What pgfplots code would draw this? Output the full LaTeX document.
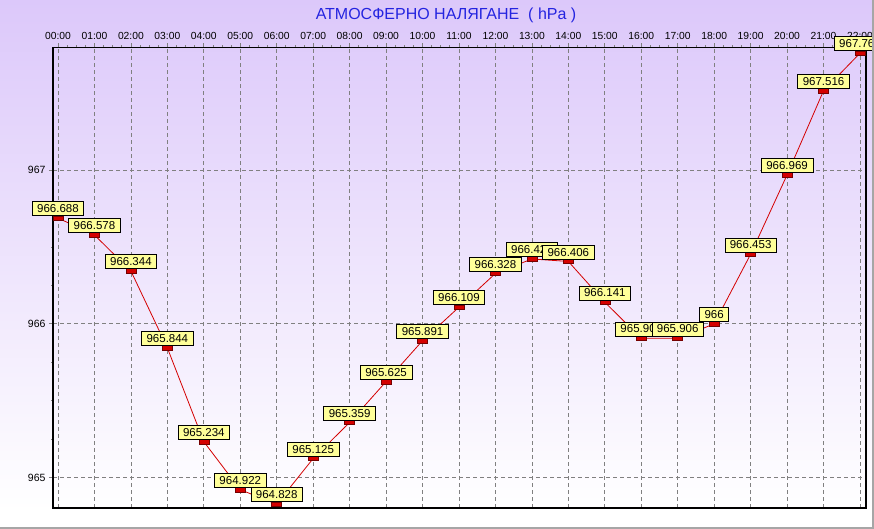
\documentclass[border=0pt]{standalone}
\usepackage{fontspec}
\setmainfont{Liberation Sans}
\usepackage{pgfplots}
\usepackage{pgfplotstable}
\pgfplotsset{compat=1.18}
\definecolor{bgtop}{HTML}{DCC8FA}
\definecolor{lbl}{HTML}{FFFF99}
\definecolor{ttl}{HTML}{2424E0}
\definecolor{ptred}{HTML}{D40000}
\definecolor{grd}{HTML}{808080}

\pgfplotstableread{
x y lab
0 966.688 966.688
1 966.578 966.578
2 966.344 966.344
3 965.844 965.844
4 965.234 965.234
5 964.922 964.922
6 964.828 964.828
7 965.125 965.125
8 965.359 965.359
9 965.625 965.625
10 965.891 965.891
11 966.109 966.109
12 966.328 966.328
13 966.422 966.422
14 966.406 966.406
15 966.141 966.141
16 965.906 965.906
17 965.906 965.906
18 966 966
19 966.453 966.453
20 966.969 966.969
21 967.516 967.516
22 967.760 967.760
}\pres

\begin{document}
\begin{tikzpicture}[x=1pt,y=1pt]
\shade[top color=bgtop, bottom color=white] (0,18) rectangle (874,529);
\fill[white] (0,0) rectangle (874,18);
\begin{axis}[
  at={(53pt,21pt)}, anchor=south west,
  scale only axis, width=813pt, height=460.5pt,
  xmin=-0.137, xmax=22.165,
  ymin=964.803, ymax=967.797,
  clip=false,
  axis line style={line width=1.8pt, black},
  xtick={0,...,22},
  xticklabels={00:00,01:00,02:00,03:00,04:00,05:00,06:00,07:00,08:00,09:00,10:00,11:00,12:00,13:00,14:00,15:00,16:00,17:00,18:00,19:00,20:00,21:00,22:00},
  xtick pos=top, xticklabel pos=top,
  minor x tick num=3,
  ytick={965,966,967},
  yticklabels={965,966,967},
  minor y tick num=3,
  ytick pos=left,
  tick align=outside,
  major tick length=4pt, minor tick length=2pt,
  tick style={grd, line width=0.8pt},
  grid=major,
  major grid style={grd, line width=0.8pt, dash pattern=on 4pt off 3pt},
  xticklabel style={font=\fontsize{10.3}{12}\selectfont, black, yshift=0pt},
  yticklabel style={font=\fontsize{10.5}{12}\selectfont, black},
]
\addplot[color=ptred, line width=0.8pt,
  mark=square*, mark size=5pt,
  mark options={yscale=0.45, fill=ptred, draw=ptred!55!black, line width=0.6pt},
  nodes near coords, point meta=explicit symbolic,
  every node near coord/.append style={anchor=south, yshift=2pt,
    fill=lbl, draw=black, line width=0.7pt, text=black,
    font=\fontsize{11.5}{12}\selectfont, inner xsep=5pt, inner ysep=2.5pt,
    text height=8.5pt, text depth=0.5pt}]
  table[x=x, y=y, meta=lab] {\pres};
\end{axis}
\node[text=ttl, font=\fontsize{16}{18}\selectfont] at (446,514) {АТМОСФЕРНО НАЛЯГАНЕ \ ( hPa )};
\draw[gray!70, line width=2pt] (0,1) -- (873,1) -- (873,529);
\pgfresetboundingbox
\path[use as bounding box] (0,0) rectangle (874,529);
\end{tikzpicture}
\end{document}
